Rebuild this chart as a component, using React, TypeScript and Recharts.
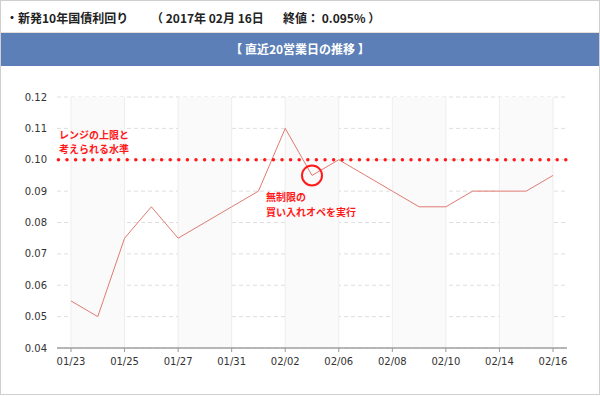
import React from 'react';
import {
  LineChart,
  Line,
  XAxis,
  YAxis,
  CartesianGrid,
  ReferenceArea,
  ReferenceLine,
  ReferenceDot,
} from 'recharts';

const dates = [
  '01/23', '01/24', '01/25', '01/26', '01/27', '01/30', '01/31', '02/01',
  '02/02', '02/03', '02/06', '02/07', '02/08', '02/09', '02/10', '02/13',
  '02/14', '02/15', '02/16',
];
const yields = [
  0.055, 0.05, 0.075, 0.085, 0.075, 0.08, 0.085, 0.09, 0.11, 0.095, 0.1,
  0.095, 0.09, 0.085, 0.085, 0.09, 0.09, 0.09, 0.095,
];
const yTicks = [0.04, 0.05, 0.06, 0.07, 0.08, 0.09, 0.1, 0.11, 0.12];
const labeledDates = dates.filter((_, i) => i % 2 === 0);
const shadedBands = [
  ['01/23', '01/25'],
  ['01/27', '01/31'],
  ['02/02', '02/06'],
  ['02/08', '02/10'],
  ['02/14', '02/16'],
];
const rangeLevel = 0.1;
const opDate = '02/03';
const opValue = 0.095;
const rangeNote = ['レンジの上限と', '考えられる水準'];
const opNote = ['無制限の', '買い入れオペを実行'];

const data = dates.map((name, i) => ({ name, value: yields[i] }));

const jpFont = '"Noto Sans CJK JP", "Noto Sans", sans-serif';
const red = '#ff1a1a';

// two-line red annotation, y = baseline of the first line
function NoteText({ x, y, lines }: { x: number; y: number; lines: string[] }) {
  return (
    <g>
      {lines.map((l, i) => (
        <text
          key={i}
          x={x}
          y={y + i * 14.6}
          fill={red}
          fontSize={10}
          fontWeight="bold"
          fontFamily={jpFont}
        >
          {l}
        </text>
      ))}
    </g>
  );
}

export default function App() {
  return (
    <div
      style={{
        position: 'absolute',
        left: 0,
        top: 0,
        width: 600,
        height: 395,
        boxSizing: 'border-box',
        border: '1px solid #cfcfcf',
        background: '#fff',
        fontFamily: jpFont,
      }}
    >
      <div style={{ position: 'absolute', top: 8, left: 5, fontSize: 12, fontWeight: 'bold', color: '#222', whiteSpace: 'pre' }}>
        ・新発10年国債利回り
      </div>
      <div style={{ position: 'absolute', top: 8, left: 150, fontSize: 12, fontWeight: 'bold', color: '#222', whiteSpace: 'pre' }}>
        （ 2017年 02月 16日
      </div>
      <div style={{ position: 'absolute', top: 8, left: 282, fontSize: 12, fontWeight: 'bold', color: '#222', whiteSpace: 'pre' }}>
        終値： 0.095% ）
      </div>
      <div
        style={{
          position: 'absolute',
          top: 31,
          left: 0,
          width: 598,
          height: 33,
          borderTop: '1px solid #e2ded8',
          background: '#5b7fb6',
          color: '#fff',
          fontSize: 12,
          fontWeight: 'bold',
          textAlign: 'center',
          lineHeight: '32px',
        }}
      >
        【 直近20営業日の推移 】
      </div>
      <div style={{ position: 'absolute', top: 65, left: -1 }}>
        <LineChart
          width={600}
          height={330}
          data={data}
          margin={{ top: 31, right: 33, left: 0, bottom: 18 }}
          style={{ fontFamily: '"DejaVu Sans", Verdana, sans-serif' }}
        >
          {shadedBands.map(([a, b]) => (
            <ReferenceArea key={a} x1={a} x2={b} fill="#fafafa" fillOpacity={1} strokeOpacity={0} />
          ))}
          {labeledDates.map((d) => (
            <ReferenceLine key={d} x={d} stroke="#ededed" strokeWidth={1} />
          ))}
          <CartesianGrid vertical={false} stroke="#dedede" strokeDasharray="4 3" />
          <XAxis
            dataKey="name"
            interval={1}
            height={30}
            padding={{ left: 14, right: 14 }}
            tickSize={4}
            tickMargin={6}
            tick={{ fill: '#333', fontSize: 10 }}
            axisLine={{ stroke: '#a0a0a0', strokeWidth: 1.5 }}
            tickLine={{ stroke: '#999' }}
          />
          <YAxis
            width={57}
            domain={[0.04, 0.12]}
            ticks={yTicks}
            tickFormatter={(v: number) => v.toFixed(2)}
            axisLine={false}
            tickLine={false}
            tickMargin={4}
            tick={{ fill: '#333', fontSize: 10 }}
          />
          <Line
            type="linear"
            dataKey="value"
            stroke="#e07a72"
            strokeWidth={1}
            dot={false}
            activeDot={false}
            isAnimationActive={false}
          />
          <ReferenceLine
            y={rangeLevel}
            stroke={red}
            strokeWidth={3.5}
            strokeDasharray="0 8.6"
            strokeLinecap="round"
            strokeDashoffset={-10}
            label={{
              content: (p: any) => (
                <NoteText x={p.viewBox.x + 2} y={p.viewBox.y - 21} lines={rangeNote} />
              ),
            }}
          />
          <ReferenceDot
            x={opDate}
            y={opValue}
            r={10}
            fill="none"
            stroke={red}
            strokeWidth={2}
            label={{
              content: (p: any) => {
                const cx = p.viewBox.x + p.viewBox.width / 2;
                const cy = p.viewBox.y + p.viewBox.height / 2;
                return <NoteText x={cx - 46} y={cy + 26} lines={opNote} />;
              },
            }}
          />
        </LineChart>
      </div>
    </div>
  );
}
